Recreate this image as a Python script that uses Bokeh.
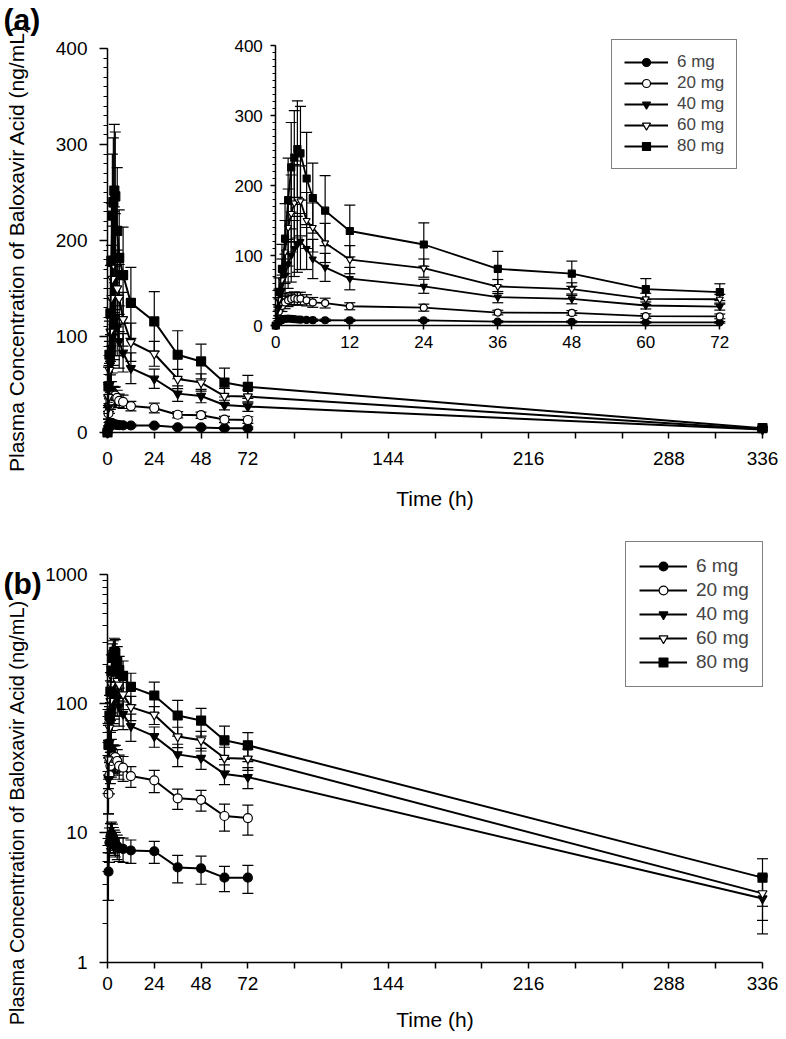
from bokeh.plotting import figure
from bokeh.models import (Range1d, LinearAxis, LogAxis, LogScale, FixedTicker, ColumnDataSource,
                          Whisker, TeeHead, Legend, LegendItem, Label, NumeralTickFormatter)
from bokeh.layouts import column
from bokeh.embed import file_html
from bokeh.resources import INLINE

# ---------------- data ----------------
times = [0, 0.5, 1, 1.5, 2, 2.5, 3, 3.5, 4, 5, 6, 8, 12, 24, 36, 48, 60, 72]
doses = ["6 mg", "20 mg", "40 mg", "60 mg", "80 mg"]

mean_6mg = [0, 5.0, 8.4, 9.4, 9.8, 9.5, 9.0, 8.6, 8.3, 7.9, 7.6, 7.5, 7.3, 7.2, 5.4, 5.3, 4.5, 4.5]
sd_6mg = [0, 2.0, 2.5, 2.4, 2.3, 2.2, 2.0, 1.9, 1.8, 1.7, 1.6, 1.6, 1.5, 1.4, 1.3, 1.3, 1.0, 1.1]

mean_20mg = [0, 20, 28, 33, 36, 38, 39, 38, 38.5, 36, 33, 32, 27.5, 25.5, 18.5, 18, 13.5, 13]
sd_20mg = [0, 6, 8, 9, 9, 9, 9, 9, 9, 8, 7, 7, 5, 5, 3.3, 3.3, 3.2, 3.4]

mean_40mg = [0, 26, 50, 72, 88, 100, 110, 116, 120, 110, 95, 83, 67, 56, 40.5, 38, 28.6, 27]
sd_40mg = [0, 12, 22, 30, 35, 38, 40, 40, 40, 30, 28, 20, 16, 10, 8, 7, 5, 5]

mean_60mg = [0, 37, 65, 105, 140, 160, 175, 180, 178, 150, 140, 118, 94, 82, 55.7, 52, 38, 37.5]
sd_60mg = [0, 15, 30, 45, 55, 55, 55, 55, 50, 40, 35, 28, 20, 13, 10, 9, 8, 7]

mean_80mg = [0, 48, 81, 124, 179, 226, 240, 252, 246, 210, 182, 164, 135, 115.7, 81, 74, 52, 47.6]
sd_80mg = [0, 20, 35, 50, 60, 64, 67, 69, 67, 66, 50, 50, 37, 31, 25, 18, 15, 12]

late_time = 336
late_doses = ["40 mg", "60 mg", "80 mg"]
late_mean = [3.1, 3.4, 4.5]
late_sd = [1.45, 1.3, 1.8]

x_ticks = list(range(0, 337, 24))
x_labelled = [0, 24, 48, 72, 144, 216, 288, 336]
lin_ticks = [0, 100, 200, 300, 400]
lin_minor = list(range(0, 401, 10))
inset_x_ticks = [0, 12, 24, 36, 48, 60, 72]
log_ticks = [1, 10, 100, 1000]
log_minor = [m * d for d in (1, 10, 100) for m in range(1, 10)] + [1000]

y_title = "Plasma Concentration of Baloxavir Acid (ng/mL)"
x_title = "Time (h)"

means = dict(zip(doses, [mean_6mg, mean_20mg, mean_40mg, mean_60mg, mean_80mg]))
sds = dict(zip(doses, [sd_6mg, sd_20mg, sd_40mg, sd_60mg, sd_80mg]))

# ---------------- styling ----------------
FONT = "Liberation Sans"
TICK_FS = "19px"
TITLE_FS = "21px"
styles = {
    "6 mg": ("circle", "black"),
    "20 mg": ("circle", "white"),
    "40 mg": ("inverted_triangle", "black"),
    "60 mg": ("inverted_triangle", "white"),
    "80 mg": ("square", "black"),
}


def rng(v0, p0, v1, p1, lo_px, hi_px):
    k = (p1 - p0) / (v1 - v0)
    return v0 + (lo_px - p0) / k, v0 + (hi_px - p0) / k


def series(dose, include_late, positive_only):
    xs, ys, ss = list(times), list(means[dose]), list(sds[dose])
    if include_late and dose in late_doses:
        i = late_doses.index(dose)
        xs.append(late_time)
        ys.append(late_mean[i])
        ss.append(late_sd[i])
    if positive_only:
        keep = [k for k in range(len(xs)) if ys[k] > 0]
        xs = [xs[k] for k in keep]
        ys = [ys[k] for k in keep]
        ss = [ss[k] for k in keep]
    return xs, ys, ss


def draw(p, dose, include_late, positive_only, size, lw, xr="default", yr="default"):
    xs, ys, ss = series(dose, include_late, positive_only)
    marker, fill = styles[dose]
    src = ColumnDataSource(dict(x=xs, y=ys))
    wx = [x for x, s in zip(xs, ss) if s > 0]
    wy = [y for y, s in zip(ys, ss) if s > 0]
    ws = [s for s in ss if s > 0]
    wsrc = ColumnDataSource(dict(x=wx, lo=[y - s for y, s in zip(wy, ws)], hi=[y + s for y, s in zip(wy, ws)]))
    w = Whisker(source=wsrc, base="x", lower="lo", upper="hi", dimension="height",
                line_color="black", line_width=1.2,
                upper_head=TeeHead(size=11, line_color="black", line_width=1.2),
                lower_head=TeeHead(size=11, line_color="black", line_width=1.2),
                x_range_name=xr, y_range_name=yr)
    p.add_layout(w)
    ln = p.line("x", "y", source=src, line_color="black", line_width=lw, x_range_name=xr, y_range_name=yr)
    mk = p.scatter("x", "y", source=src, marker=marker, size=size, fill_color=fill,
                   line_color="black", line_width=1.2, x_range_name=xr, y_range_name=yr)
    return ln, mk


def style_axis(ax, font_size=TICK_FS, title_fs=TITLE_FS):
    ax.axis_line_color = "black"
    ax.axis_line_width = 1.5
    ax.major_tick_line_color = "black"
    ax.major_tick_line_width = 1.5
    ax.minor_tick_line_color = "black"
    ax.minor_tick_line_width = 1
    ax.major_label_text_font = FONT
    ax.major_label_text_font_size = font_size
    ax.major_label_text_color = "black"
    ax.axis_label_text_font = FONT
    ax.axis_label_text_font_style = "normal"
    ax.axis_label_text_font_size = title_fs
    ax.axis_label_text_color = "black"


def title_axis(cls, bounds, standoff, title_fs):
    # label-only axis: carries the y title, centred on its bounds
    t = cls(fixed_location=0, bounds=bounds, ticker=FixedTicker(ticks=[]), axis_label=y_title)
    style_axis(t, title_fs=title_fs)
    t.axis_line_color = None
    t.major_tick_line_color = None
    t.minor_tick_line_color = None
    t.major_tick_out = t.major_tick_in = t.minor_tick_out = t.minor_tick_in = 0
    t.axis_label_standoff = standoff
    return t


def make_legend(p, items, loc, fs, gw, gh, pad, sp):
    leg = Legend(items=items, location=loc, orientation="vertical",
                 border_line_color="black", border_line_width=1.2,
                 background_fill_color="white", background_fill_alpha=1,
                 label_text_font=FONT, label_text_font_size=fs,
                 glyph_width=gw, glyph_height=gh, label_height=gh,
                 label_standoff=9, padding=pad, spacing=sp, margin=0)
    p.add_layout(leg, "center")


def base_figure(h, xr, yr):
    p = figure(width=W, height=h, output_backend="svg", toolbar_location=None,
               x_axis_type=None, y_axis_type=None, title=None,
               x_range=Range1d(*xr), y_range=Range1d(*yr),
               min_border_left=0, min_border_right=0, min_border_top=0, min_border_bottom=0)
    p.outline_line_color = None
    p.grid.visible = False
    p.background_fill_color = "white"
    p.border_fill_color = "white"
    return p


W = 778
XLAB = {t: (str(t) if t in x_labelled else "") for t in x_ticks}
X0_PX, X336_PX = 107, 762
TITLE_STANDOFF = 80

# ================= panel (a) =================
A_H = 516
xa = rng(0, X0_PX, 336, X336_PX, 0, W)
ya = rng(0, 432, 400, 48, A_H, 0)
ixa = rng(0, 275.3, 72, 719.3, 0, W)
iya = rng(0, 325, 400, 45, A_H, 0)

pa = base_figure(A_H, xa, ya)
pa.extra_x_ranges = {"ix": Range1d(*ixa)}
pa.extra_y_ranges = {"iy": Range1d(*iya)}

ay = LinearAxis(fixed_location=0, bounds=(0, 400),
                ticker=FixedTicker(ticks=lin_ticks, minor_ticks=lin_minor))
style_axis(ay)
ay.major_tick_out, ay.major_tick_in = 8, 0
ay.minor_tick_out, ay.minor_tick_in = 4, 0
ay.major_label_standoff = 12
pa.add_layout(ay, "left")

ta_c = 248  # page y of the title centre
ta_bounds = rng(0, 432, 400, 48, ta_c + 200, ta_c - 200)
pa.add_layout(title_axis(LinearAxis, ta_bounds, TITLE_STANDOFF, "21px"), "left")

ax = LinearAxis(fixed_location=0, bounds=(0, 336), ticker=FixedTicker(ticks=x_ticks),
                major_label_overrides=XLAB, axis_label=x_title)
style_axis(ax)
ax.major_tick_out, ax.major_tick_in = 6, 0
ax.minor_tick_out = 0
ax.major_label_standoff = 13
ax.axis_label_standoff = 19
pa.add_layout(ax, "below")

# inset axes
iy_ax = LinearAxis(x_range_name="ix", y_range_name="iy", fixed_location=0, bounds=(0, 400),
                   ticker=FixedTicker(ticks=lin_ticks, minor_ticks=lin_minor))
style_axis(iy_ax, "17px")
iy_ax.major_tick_out, iy_ax.major_tick_in = 5, 0
iy_ax.minor_tick_out, iy_ax.minor_tick_in = 3, 0
iy_ax.major_label_standoff = 8
pa.add_layout(iy_ax, "left")

ix_ax = LinearAxis(x_range_name="ix", y_range_name="iy", fixed_location=0, bounds=(0, 72),
                   ticker=FixedTicker(ticks=inset_x_ticks))
style_axis(ix_ax, "17px")
ix_ax.major_tick_out, ix_ax.major_tick_in = 4, 4
ix_ax.minor_tick_out = 0
ix_ax.major_label_standoff = 6
pa.add_layout(ix_ax, "below")

items_a = []
for d in doses:
    ln, mk = draw(pa, d, True, False, 9, 2)
    items_a.append(LegendItem(label=d, renderers=[ln, mk]))
for d in doses:
    draw(pa, d, False, False, 7, 1.8, "ix", "iy")

make_legend(pa, items_a, (611, A_H - 169), "17px", 44, 20, 12, 1)
pa.add_layout(Label(x=3, y=A_H - 2, x_units="screen", y_units="screen", text="(a)",
                    text_font=FONT, text_font_style="bold", text_font_size="30px",
                    text_baseline="top", text_color="black"))

# ================= panel (b) =================
B_H = 520
B_TOP = A_H  # page y of panel (b) canvas top
xb = rng(0, X0_PX, 336, X336_PX, 0, W)
lyb = rng(0, 961.5 - B_TOP, 3, 574 - B_TOP, B_H, 0)
yb = (10 ** lyb[0], 10 ** lyb[1])

pb = base_figure(B_H, xb, yb)
pb.y_scale = LogScale()

by = LogAxis(fixed_location=0, bounds=(1, 1000),
             ticker=FixedTicker(ticks=log_ticks, minor_ticks=log_minor),
             formatter=NumeralTickFormatter(format="0"))
style_axis(by)
by.major_tick_out, by.major_tick_in = 8, 0
by.minor_tick_out, by.minor_tick_in = 5, 0
by.major_label_standoff = 12
pb.add_layout(by, "left")

tb_c = 812 - B_TOP
tb_l = rng(0, 961.5 - B_TOP, 3, 574 - B_TOP, tb_c + 200, tb_c - 200)
pb.add_layout(title_axis(LogAxis, (10 ** tb_l[0], 10 ** tb_l[1]), TITLE_STANDOFF, "20px"), "left")

bx = LinearAxis(fixed_location=1, bounds=(0, 336), ticker=FixedTicker(ticks=x_ticks),
                major_label_overrides=XLAB, axis_label=x_title)
style_axis(bx)
bx.major_tick_out, bx.major_tick_in = 6, 0
bx.minor_tick_out = 0
bx.major_label_standoff = 9
bx.axis_label_standoff = 14
pb.add_layout(bx, "below")

items_b = []
for d in doses:
    ln, mk = draw(pb, d, True, True, 9, 2)
    items_b.append(LegendItem(label=d, renderers=[ln, mk]))

make_legend(pb, items_b, (625, B_H - (687 - B_TOP)), "19px", 48, 22, 13, 2)
pb.add_layout(Label(x=3, y=B_H - (566 - B_TOP), x_units="screen", y_units="screen", text="(b)",
                    text_font=FONT, text_font_style="bold", text_font_size="30px",
                    text_baseline="top", text_color="black"))

layout = column(pa, pb, spacing=0)
open("out.html", "w").write(file_html(layout, INLINE))
